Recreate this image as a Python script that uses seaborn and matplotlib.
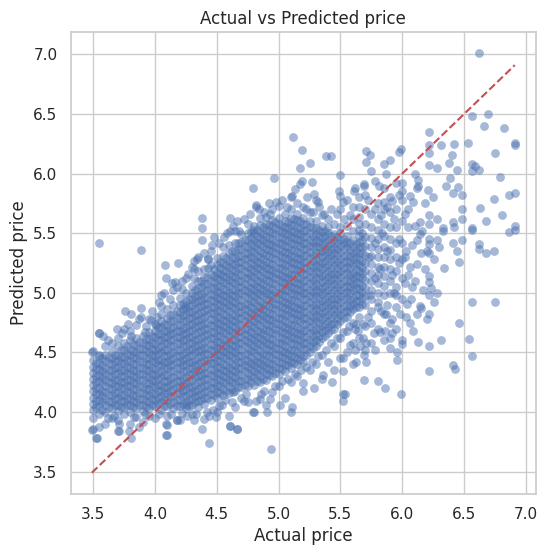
import matplotlib
matplotlib.use("Agg")
import matplotlib.pyplot as plt
import seaborn as sns
import pandas as pd

# dense part of the cloud: actual price columns and the predicted values seen in each
core_actual = [3.50, 3.55, 3.60, 3.65, 3.70, 3.75, 3.80, 3.85, 3.90, 3.95,
               4.00, 4.05, 4.10, 4.15, 4.20, 4.25, 4.30, 4.35, 4.40, 4.45,
               4.50, 4.55, 4.60, 4.65, 4.70, 4.75, 4.80, 4.85, 4.90, 4.95,
               5.00, 5.05, 5.10, 5.15, 5.20, 5.25, 5.30, 5.35, 5.40, 5.45,
               5.50, 5.55, 5.60, 5.65, 5.70, 5.75, 5.80, 5.85, 5.90, 5.95, 6.00]
core_predicted = [
    [3.86, 3.95, 4.02, 4.07, 4.12, 4.18, 4.23, 4.28, 4.33, 4.38, 4.44, 4.51],
    [3.87, 3.98, 4.05, 4.10, 4.15, 4.20, 4.26, 4.31, 4.36, 4.41, 4.47, 4.66],
    [3.90, 4.00, 4.06, 4.11, 4.17, 4.22, 4.27, 4.32, 4.37, 4.43, 4.48, 4.55],
    [3.95, 4.03, 4.08, 4.14, 4.19, 4.24, 4.29, 4.35, 4.40, 4.45, 4.51, 4.58],
    [3.84, 3.93, 4.01, 4.06, 4.12, 4.17, 4.22, 4.27, 4.33, 4.38, 4.43, 4.48, 4.55, 4.62],
    [3.98, 4.04, 4.09, 4.14, 4.20, 4.25, 4.30, 4.35, 4.41, 4.46, 4.52, 4.58, 4.70],
    [3.90, 4.00, 4.06, 4.11, 4.16, 4.22, 4.27, 4.32, 4.37, 4.43, 4.48, 4.53, 4.60, 4.68],
    [3.96, 4.03, 4.08, 4.13, 4.19, 4.24, 4.29, 4.34, 4.40, 4.45, 4.50, 4.56, 4.62, 4.73],
    [3.92, 4.01, 4.06, 4.11, 4.16, 4.21, 4.27, 4.32, 4.37, 4.42, 4.48, 4.53, 4.58, 4.64],
    [3.97, 4.03, 4.08, 4.14, 4.19, 4.24, 4.29, 4.35, 4.40, 4.45, 4.50, 4.56, 4.61, 4.67, 4.78],
    [3.95, 4.05, 4.10, 4.15, 4.21, 4.26, 4.31, 4.36, 4.42, 4.47, 4.52, 4.57, 4.63, 4.68, 4.74],
    [4.02, 4.08, 4.13, 4.18, 4.23, 4.29, 4.34, 4.39, 4.44, 4.50, 4.55, 4.60, 4.65, 4.71, 4.76, 4.82],
    [3.97, 4.05, 4.10, 4.16, 4.21, 4.26, 4.31, 4.37, 4.42, 4.47, 4.52, 4.58, 4.63, 4.68, 4.73, 4.79, 4.86],
    [4.03, 4.08, 4.13, 4.19, 4.24, 4.29, 4.34, 4.40, 4.45, 4.50, 4.55, 4.61, 4.66, 4.71, 4.76, 4.82, 4.90, 5.02],
    [3.93, 4.05, 4.10, 4.16, 4.21, 4.26, 4.31, 4.37, 4.42, 4.47, 4.52, 4.58, 4.63, 4.68, 4.73, 4.79, 4.84, 4.90, 4.96],
    [4.03, 4.08, 4.13, 4.19, 4.24, 4.29, 4.34, 4.40, 4.45, 4.50, 4.55, 4.61, 4.66, 4.71, 4.76, 4.82, 4.87, 4.93, 5.00, 5.12],
    [3.98, 4.06, 4.11, 4.16, 4.21, 4.27, 4.32, 4.37, 4.42, 4.48, 4.53, 4.58, 4.63, 4.69, 4.74, 4.79, 4.84, 4.90, 4.95, 5.00, 5.06],
    [4.04, 4.09, 4.14, 4.19, 4.25, 4.30, 4.35, 4.40, 4.46, 4.51, 4.56, 4.61, 4.67, 4.72, 4.77, 4.82, 4.88, 4.93, 4.98, 5.04, 5.10, 5.18],
    [3.94, 4.07, 4.12, 4.17, 4.22, 4.28, 4.33, 4.38, 4.43, 4.49, 4.54, 4.59, 4.64, 4.70, 4.75, 4.80, 4.85, 4.91, 4.96, 5.01, 5.07, 5.13, 5.20],
    [4.10, 4.15, 4.20, 4.25, 4.31, 4.36, 4.41, 4.46, 4.52, 4.57, 4.62, 4.67, 4.73, 4.78, 4.83, 4.88, 4.94, 4.99, 5.04, 5.10, 5.16, 5.23, 5.35],
    [4.00, 4.12, 4.17, 4.22, 4.28, 4.33, 4.38, 4.43, 4.49, 4.54, 4.59, 4.64, 4.70, 4.75, 4.80, 4.85, 4.91, 4.96, 5.01, 5.06, 5.12, 5.17, 5.23, 5.29],
    [4.14, 4.19, 4.25, 4.30, 4.35, 4.40, 4.46, 4.51, 4.56, 4.61, 4.67, 4.72, 4.77, 4.82, 4.88, 4.93, 4.98, 5.03, 5.09, 5.14, 5.19, 5.25, 5.31, 5.38],
    [3.97, 4.16, 4.22, 4.27, 4.32, 4.37, 4.43, 4.48, 4.53, 4.58, 4.64, 4.69, 4.74, 4.79, 4.85, 4.90, 4.95, 5.00, 5.06, 5.11, 5.16, 5.22, 5.27, 5.33, 5.40],
    [4.04, 4.18, 4.24, 4.29, 4.34, 4.39, 4.45, 4.50, 4.55, 4.60, 4.66, 4.71, 4.76, 4.81, 4.87, 4.92, 4.97, 5.02, 5.08, 5.13, 5.18, 5.24, 5.29, 5.35, 5.42, 5.52],
    [4.21, 4.26, 4.31, 4.37, 4.42, 4.47, 4.52, 4.58, 4.63, 4.68, 4.73, 4.79, 4.84, 4.89, 4.94, 5.00, 5.05, 5.10, 5.15, 5.21, 5.26, 5.31, 5.37, 5.43, 5.49],
    [4.08, 4.22, 4.28, 4.33, 4.38, 4.43, 4.49, 4.54, 4.59, 4.64, 4.70, 4.75, 4.80, 4.85, 4.91, 4.96, 5.01, 5.06, 5.12, 5.17, 5.22, 5.28, 5.33, 5.38, 5.44, 5.50, 5.58],
    [4.00, 4.23, 4.29, 4.34, 4.39, 4.44, 4.50, 4.55, 4.60, 4.65, 4.71, 4.76, 4.81, 4.86, 4.92, 4.97, 5.02, 5.07, 5.13, 5.18, 5.23, 5.28, 5.34, 5.39, 5.44, 5.50, 5.56],
    [4.11, 4.25, 4.30, 4.36, 4.41, 4.46, 4.51, 4.57, 4.62, 4.67, 4.72, 4.78, 4.83, 4.88, 4.93, 4.99, 5.04, 5.09, 5.14, 5.20, 5.25, 5.30, 5.35, 5.41, 5.46, 5.51, 5.57, 5.63],
    [4.06, 4.27, 4.32, 4.37, 4.42, 4.48, 4.53, 4.58, 4.63, 4.69, 4.74, 4.79, 4.84, 4.90, 4.95, 5.00, 5.05, 5.11, 5.16, 5.21, 5.26, 5.32, 5.37, 5.42, 5.47, 5.53, 5.58, 5.64],
    [4.17, 4.30, 4.35, 4.40, 4.45, 4.51, 4.56, 4.61, 4.66, 4.72, 4.77, 4.82, 4.87, 4.93, 4.98, 5.03, 5.08, 5.14, 5.19, 5.24, 5.29, 5.35, 5.40, 5.45, 5.50, 5.56, 5.61, 5.70],
    [4.22, 4.32, 4.37, 4.42, 4.48, 4.53, 4.58, 4.63, 4.69, 4.74, 4.79, 4.84, 4.90, 4.95, 5.00, 5.05, 5.11, 5.16, 5.21, 5.26, 5.32, 5.37, 5.42, 5.47, 5.53, 5.58, 5.63, 5.73],
    [4.12, 4.34, 4.39, 4.45, 4.50, 4.55, 4.60, 4.66, 4.71, 4.76, 4.81, 4.87, 4.92, 4.97, 5.02, 5.08, 5.13, 5.18, 5.23, 5.29, 5.34, 5.39, 5.44, 5.50, 5.55, 5.60, 5.66],
    [4.25, 4.37, 4.42, 4.47, 4.52, 4.58, 4.63, 4.68, 4.73, 4.79, 4.84, 4.89, 4.94, 5.00, 5.05, 5.10, 5.15, 5.21, 5.26, 5.31, 5.36, 5.42, 5.47, 5.52, 5.57, 5.63, 5.70, 5.80],
    [4.30, 4.40, 4.45, 4.50, 4.56, 4.61, 4.66, 4.71, 4.77, 4.82, 4.87, 4.92, 4.98, 5.03, 5.08, 5.13, 5.19, 5.24, 5.29, 5.34, 5.40, 5.45, 5.50, 5.55, 5.61, 5.66],
    [4.18, 4.42, 4.47, 4.53, 4.58, 4.63, 4.68, 4.74, 4.79, 4.84, 4.89, 4.95, 5.00, 5.05, 5.10, 5.16, 5.21, 5.26, 5.31, 5.37, 5.42, 5.47, 5.52, 5.58, 5.63, 5.72],
    [4.35, 4.50, 4.55, 4.60, 4.66, 4.71, 4.76, 4.81, 4.87, 4.92, 4.97, 5.02, 5.08, 5.13, 5.18, 5.23, 5.29, 5.34, 5.39, 5.44, 5.50, 5.55, 5.60, 5.68],
    [4.40, 4.55, 4.60, 4.65, 4.70, 4.76, 4.81, 4.86, 4.91, 4.97, 5.02, 5.07, 5.12, 5.18, 5.23, 5.28, 5.33, 5.39, 5.44, 5.49, 5.54, 5.60, 5.78],
    [4.28, 4.48, 4.62, 4.67, 4.72, 4.78, 4.83, 4.88, 4.93, 4.99, 5.04, 5.09, 5.14, 5.20, 5.25, 5.30, 5.35, 5.41, 5.46, 5.51, 5.56, 5.65],
    [4.42, 4.66, 4.71, 4.76, 4.81, 4.87, 4.92, 4.97, 5.02, 5.08, 5.13, 5.18, 5.23, 5.29, 5.34, 5.39, 5.44, 5.50, 5.55, 5.62],
    [4.35, 4.55, 4.70, 4.75, 4.81, 4.86, 4.91, 4.96, 5.02, 5.07, 5.12, 5.17, 5.23, 5.28, 5.33, 5.38, 5.44, 5.49, 5.58],
    [4.45, 4.62, 4.76, 4.81, 4.86, 4.92, 4.97, 5.02, 5.07, 5.13, 5.18, 5.23, 5.28, 5.34, 5.39, 5.44, 5.50, 5.55, 5.70],
    [4.50, 4.68, 4.80, 4.85, 4.90, 4.96, 5.01, 5.06, 5.11, 5.17, 5.22, 5.27, 5.32, 5.38, 5.43, 5.48, 5.56],
    [4.40, 4.58, 4.75, 4.86, 4.91, 4.96, 5.02, 5.07, 5.12, 5.17, 5.23, 5.28, 5.33, 5.38, 5.44, 5.52, 5.62],
    [4.62, 4.80, 4.88, 4.93, 4.98, 5.03, 5.08, 5.13, 5.18, 5.23, 5.28, 5.33, 5.38, 5.43, 5.48, 5.53, 5.58, 5.64, 5.72],
    [4.52, 4.72, 4.90, 4.97, 5.04, 5.11, 5.18, 5.25, 5.32, 5.39, 5.47, 5.58, 5.70, 5.82],
    [4.58, 4.85, 4.95, 5.02, 5.10, 5.17, 5.24, 5.31, 5.38, 5.46, 5.55, 5.66],
    [4.70, 4.92, 5.00, 5.08, 5.15, 5.22, 5.30, 5.37, 5.45, 5.53, 5.62, 5.75],
    [4.82, 4.98, 5.06, 5.14, 5.22, 5.30, 5.38, 5.48, 5.58, 5.70, 5.88],
    [4.75, 5.00, 5.10, 5.20, 5.28, 5.36, 5.45, 5.55, 5.68, 5.80],
    [4.88, 5.05, 5.18, 5.30, 5.42, 5.55, 5.70, 5.92],
    [4.95, 5.12, 5.28, 5.42, 5.60, 5.78],
]

# the most crowded middle of the cloud, between the columns above
inner_actual = [3.525, 3.575, 3.625, 3.675, 3.725, 3.775, 3.825, 3.875, 3.925, 3.975,
                4.025, 4.075, 4.125, 4.175, 4.225, 4.275, 4.325, 4.375, 4.425, 4.475,
                4.525, 4.575, 4.625, 4.675, 4.725, 4.775, 4.825, 4.875, 4.925, 4.975,
                5.025, 5.075, 5.125, 5.175, 5.225, 5.275, 5.325, 5.375, 5.425, 5.475,
                5.525, 5.575, 5.625, 5.675]
inner_predicted = [
    [4.04, 4.09, 4.15, 4.20, 4.25, 4.30, 4.36, 4.41],
    [4.02, 4.08, 4.13, 4.18, 4.24, 4.29, 4.34, 4.39, 4.45],
    [4.04, 4.09, 4.14, 4.20, 4.25, 4.30, 4.35, 4.41, 4.46],
    [4.06, 4.11, 4.16, 4.22, 4.27, 4.32, 4.37, 4.43, 4.48],
    [4.04, 4.09, 4.14, 4.20, 4.25, 4.30, 4.35, 4.41, 4.46, 4.52],
    [4.06, 4.11, 4.17, 4.22, 4.27, 4.33, 4.38, 4.43, 4.49, 4.55],
    [4.04, 4.09, 4.14, 4.19, 4.25, 4.30, 4.35, 4.40, 4.46, 4.51, 4.57],
    [4.06, 4.11, 4.16, 4.22, 4.27, 4.32, 4.37, 4.43, 4.48, 4.53, 4.59],
    [4.04, 4.09, 4.14, 4.19, 4.24, 4.30, 4.35, 4.40, 4.45, 4.51, 4.56, 4.61],
    [4.06, 4.11, 4.16, 4.22, 4.27, 4.32, 4.37, 4.43, 4.48, 4.53, 4.58, 4.64],
    [4.07, 4.12, 4.18, 4.23, 4.28, 4.33, 4.39, 4.44, 4.49, 4.54, 4.60, 4.65, 4.71],
    [4.05, 4.10, 4.16, 4.21, 4.26, 4.31, 4.37, 4.42, 4.47, 4.52, 4.58, 4.63, 4.68, 4.74],
    [4.07, 4.13, 4.18, 4.23, 4.28, 4.34, 4.39, 4.44, 4.49, 4.55, 4.60, 4.65, 4.70, 4.76, 4.81],
    [4.05, 4.10, 4.16, 4.21, 4.26, 4.31, 4.37, 4.42, 4.47, 4.52, 4.58, 4.63, 4.68, 4.73, 4.79, 4.85],
    [4.07, 4.13, 4.18, 4.23, 4.28, 4.34, 4.39, 4.44, 4.49, 4.55, 4.60, 4.65, 4.70, 4.76, 4.81, 4.86, 4.91],
    [4.05, 4.10, 4.16, 4.21, 4.26, 4.31, 4.37, 4.42, 4.47, 4.52, 4.58, 4.63, 4.68, 4.73, 4.79, 4.84, 4.89, 4.95],
    [4.08, 4.13, 4.18, 4.23, 4.29, 4.34, 4.39, 4.44, 4.50, 4.55, 4.60, 4.65, 4.71, 4.76, 4.81, 4.86, 4.92, 4.97, 5.02],
    [4.10, 4.15, 4.21, 4.26, 4.31, 4.36, 4.42, 4.47, 4.52, 4.57, 4.63, 4.68, 4.73, 4.78, 4.84, 4.89, 4.94, 4.99, 5.05, 5.10],
    [4.12, 4.18, 4.23, 4.28, 4.33, 4.39, 4.44, 4.49, 4.54, 4.60, 4.65, 4.70, 4.75, 4.81, 4.86, 4.91, 4.96, 5.02, 5.07, 5.13],
    [4.14, 4.20, 4.25, 4.30, 4.35, 4.41, 4.46, 4.51, 4.56, 4.62, 4.67, 4.72, 4.77, 4.83, 4.88, 4.93, 4.98, 5.04, 5.09, 5.14, 5.20],
    [4.16, 4.22, 4.27, 4.32, 4.37, 4.43, 4.48, 4.53, 4.58, 4.64, 4.69, 4.74, 4.79, 4.85, 4.90, 4.95, 5.00, 5.06, 5.11, 5.16, 5.21, 5.26],
    [4.18, 4.24, 4.29, 4.34, 4.39, 4.45, 4.50, 4.55, 4.60, 4.66, 4.71, 4.76, 4.81, 4.87, 4.92, 4.97, 5.02, 5.08, 5.13, 5.18, 5.23, 5.29],
    [4.19, 4.25, 4.30, 4.35, 4.40, 4.46, 4.51, 4.56, 4.61, 4.67, 4.72, 4.77, 4.82, 4.88, 4.93, 4.98, 5.03, 5.09, 5.14, 5.19, 5.24, 5.30, 5.35],
    [4.21, 4.26, 4.32, 4.37, 4.42, 4.47, 4.53, 4.58, 4.63, 4.68, 4.74, 4.79, 4.84, 4.89, 4.95, 5.00, 5.05, 5.10, 5.16, 5.21, 5.26, 5.31, 5.37, 5.42],
    [4.23, 4.28, 4.34, 4.39, 4.44, 4.49, 4.55, 4.60, 4.65, 4.70, 4.76, 4.81, 4.86, 4.91, 4.97, 5.02, 5.07, 5.12, 5.18, 5.23, 5.28, 5.33, 5.39, 5.44],
    [4.25, 4.30, 4.36, 4.41, 4.46, 4.51, 4.57, 4.62, 4.67, 4.72, 4.78, 4.83, 4.88, 4.93, 4.99, 5.04, 5.09, 5.14, 5.20, 5.25, 5.30, 5.35, 5.41, 5.46, 5.51],
    [4.26, 4.32, 4.37, 4.42, 4.47, 4.53, 4.58, 4.63, 4.68, 4.74, 4.79, 4.84, 4.89, 4.95, 5.00, 5.05, 5.10, 5.16, 5.21, 5.26, 5.31, 5.37, 5.42, 5.47, 5.53],
    [4.28, 4.34, 4.39, 4.44, 4.49, 4.55, 4.60, 4.65, 4.70, 4.76, 4.81, 4.86, 4.91, 4.97, 5.02, 5.07, 5.12, 5.18, 5.23, 5.28, 5.33, 5.39, 5.44, 5.49, 5.55],
    [4.31, 4.36, 4.41, 4.47, 4.52, 4.57, 4.62, 4.68, 4.73, 4.78, 4.83, 4.89, 4.94, 4.99, 5.04, 5.10, 5.15, 5.20, 5.25, 5.31, 5.36, 5.41, 5.46, 5.52, 5.57],
    [4.33, 4.38, 4.44, 4.49, 4.54, 4.59, 4.65, 4.70, 4.75, 4.80, 4.86, 4.91, 4.96, 5.01, 5.07, 5.12, 5.17, 5.22, 5.28, 5.33, 5.38, 5.43, 5.49, 5.54, 5.59],
    [4.36, 4.41, 4.46, 4.51, 4.57, 4.62, 4.67, 4.72, 4.78, 4.83, 4.88, 4.93, 4.99, 5.04, 5.09, 5.14, 5.20, 5.25, 5.30, 5.35, 5.41, 5.46, 5.51, 5.56],
    [4.39, 4.44, 4.49, 4.54, 4.60, 4.65, 4.70, 4.75, 4.81, 4.86, 4.91, 4.96, 5.02, 5.07, 5.12, 5.17, 5.23, 5.28, 5.33, 5.38, 5.44, 5.49, 5.54, 5.59],
    [4.41, 4.46, 4.52, 4.57, 4.62, 4.67, 4.73, 4.78, 4.83, 4.88, 4.94, 4.99, 5.04, 5.09, 5.15, 5.20, 5.25, 5.30, 5.36, 5.41, 5.46, 5.51, 5.57, 5.62],
    [4.44, 4.49, 4.55, 4.60, 4.65, 4.70, 4.76, 4.81, 4.86, 4.91, 4.97, 5.02, 5.07, 5.12, 5.18, 5.23, 5.28, 5.33, 5.39, 5.44, 5.49, 5.54, 5.60],
    [4.48, 4.53, 4.58, 4.63, 4.69, 4.74, 4.79, 4.84, 4.90, 4.95, 5.00, 5.05, 5.11, 5.16, 5.21, 5.26, 5.32, 5.37, 5.42, 5.47, 5.53, 5.58],
    [4.54, 4.59, 4.64, 4.69, 4.75, 4.80, 4.85, 4.90, 4.96, 5.01, 5.06, 5.11, 5.17, 5.22, 5.27, 5.32, 5.38, 5.43, 5.48, 5.54],
    [4.59, 4.64, 4.70, 4.75, 4.80, 4.85, 4.91, 4.96, 5.01, 5.06, 5.12, 5.17, 5.22, 5.27, 5.33, 5.38, 5.43, 5.48, 5.53],
    [4.64, 4.69, 4.74, 4.80, 4.85, 4.90, 4.95, 5.01, 5.06, 5.11, 5.16, 5.22, 5.27, 5.32, 5.37, 5.43, 5.48, 5.52],
    [4.69, 4.74, 4.79, 4.85, 4.90, 4.95, 5.00, 5.06, 5.11, 5.16, 5.21, 5.27, 5.32, 5.37, 5.42, 5.48],
    [4.74, 4.79, 4.84, 4.90, 4.95, 5.00, 5.05, 5.11, 5.16, 5.21, 5.26, 5.32, 5.37, 5.42, 5.47],
    [4.79, 4.84, 4.89, 4.95, 5.00, 5.05, 5.10, 5.16, 5.21, 5.26, 5.31, 5.37, 5.42, 5.45],
    [4.84, 4.89, 4.94, 5.00, 5.05, 5.10, 5.15, 5.21, 5.26, 5.31, 5.36, 5.42],
    [4.88, 4.93, 4.98, 5.04, 5.09, 5.14, 5.19, 5.25, 5.30, 5.35, 5.41],
    [4.91, 4.96, 5.01, 5.06, 5.12, 5.17, 5.22, 5.27, 5.33, 5.38, 5.44, 5.50],
]

# loose points along the rim of the dense part
edge_actual = [
    3.98, 4.03, 4.07, 4.12, 4.14, 4.22, 4.27, 4.30, 4.35, 4.40, 4.46, 4.48, 4.52, 4.58,
    4.63, 4.66, 4.72, 4.77, 4.84, 4.88, 4.92, 5.03, 5.07, 5.15, 5.22, 5.28, 5.33, 5.37,
    5.42, 5.47, 5.53, 4.02, 3.93, 3.87, 3.78, 3.73, 3.62, 3.58,
    4.52, 4.57, 4.62, 4.70, 4.74, 4.88, 4.97, 5.03, 5.08, 5.13, 5.18, 5.22, 5.27, 5.32,
    5.38, 5.42, 5.47, 5.52, 5.57, 5.63, 4.47, 4.42, 4.33, 4.22, 4.13, 4.03, 3.92, 3.83,
    3.67, 3.62,
    5.72, 5.74, 5.78, 5.82, 5.73, 5.78, 5.84, 5.88, 5.92, 5.93, 5.97, 5.97, 6.02, 6.03,
    6.06, 6.07, 5.83, 5.77, 5.71, 5.66, 5.64, 5.68, 5.90, 5.95, 6.03, 6.09,
]
edge_predicted = [
    4.85, 4.92, 5.00, 4.95, 5.08, 5.10, 5.16, 5.22, 5.30, 5.33, 5.40, 5.47, 5.42, 5.50,
    5.56, 5.60, 5.62, 5.66, 5.70, 5.68, 5.75, 5.78, 5.72, 5.75, 5.70, 5.68, 5.72, 5.66,
    5.70, 5.66, 5.62, 4.80, 4.72, 4.78, 4.74, 4.66, 4.60, 4.64,
    4.05, 4.10, 4.08, 4.12, 4.15, 4.18, 4.22, 4.26, 4.28, 4.32, 4.35, 4.38, 4.42, 4.47,
    4.52, 4.58, 4.62, 4.67, 4.72, 4.74, 4.02, 4.00, 3.98, 3.99, 3.98, 3.98, 3.98, 3.96,
    3.97, 3.95,
    4.80, 4.98, 5.12, 5.20, 5.30, 5.42, 5.50, 5.35, 5.15, 5.00, 5.25, 5.45, 5.08, 5.35,
    5.22, 4.95, 4.85, 4.66, 4.58, 4.55, 4.68, 4.74, 4.62, 4.70, 4.80, 4.68,
]

# scattered points away from the dense part
sparse_actual = [
    6.62, 6.56, 6.69, 6.66, 6.82, 6.22, 6.91, 6.91, 6.53, 6.42, 6.31, 6.22, 5.12, 5.19,
    5.38, 5.42, 5.71, 5.74, 5.99, 5.97, 5.25, 5.17, 5.71, 5.85, 5.90, 5.87, 6.22, 6.22,
    6.28, 6.40, 6.38, 6.44, 6.39, 6.75, 6.56, 6.59, 6.62, 6.56, 6.79, 4.96, 4.79, 5.50,
    5.75, 6.10, 6.13, 6.13, 6.35, 6.45, 6.48, 6.41, 6.91, 6.86, 6.74, 6.63, 6.68, 6.81,
    6.91, 6.91, 6.86, 6.56, 6.56, 6.62, 6.62, 6.68, 6.74, 6.48, 6.48, 6.41, 6.42, 6.33,
    6.33, 6.41, 6.48, 6.44, 6.46, 6.22, 6.22, 6.22, 6.22, 6.28, 6.30, 6.22, 6.34, 6.10,
    6.14, 6.14, 6.12, 6.15, 6.12,
    3.55, 3.89, 4.08, 4.19, 4.38, 4.38, 4.38, 4.61, 4.34, 4.43, 4.56, 4.61, 4.68, 4.79,
    4.82, 4.82, 4.93, 4.98, 5.11, 5.13, 5.17, 5.19, 5.23, 5.29, 5.32, 5.27, 5.49, 5.50,
    5.52, 5.61, 5.69, 5.69, 5.78, 5.81, 5.85, 5.92, 6.00, 6.00, 6.06, 6.09, 6.12, 6.21,
    6.56, 6.75, 6.54, 6.46, 6.31, 6.22, 6.13, 6.22, 6.41, 6.43, 6.56, 5.69, 5.80, 5.86,
    5.99, 5.29, 5.52, 5.52, 5.54,
    6.22, 6.22, 6.23, 6.22, 6.17, 6.15, 6.20, 6.22, 6.06, 6.04, 5.98, 6.00, 6.00, 5.96,
    5.96, 5.90, 5.92, 5.86, 5.82, 5.87, 6.12, 6.14, 5.69, 5.71, 5.62, 5.63, 5.52, 5.52,
    5.43, 5.36, 5.20, 5.01, 4.93, 4.86, 4.82, 4.72, 4.63, 4.54, 4.44, 4.26, 4.25,
    3.53, 4.10, 4.10, 4.18, 4.44, 4.38, 4.61, 4.66, 4.09, 4.05, 4.05, 3.76, 3.81, 3.89,
    3.69, 3.55, 3.49, 3.55, 3.89, 3.92, 3.81, 3.97, 4.01, 4.32, 4.32, 4.32, 4.43, 4.43,
    4.16, 4.18, 4.22, 4.24, 3.49, 3.52, 3.71, 3.71, 3.79, 3.81, 3.87, 4.09, 4.09, 4.18,
    4.32, 4.49, 4.61, 4.66, 4.79, 4.91, 4.94, 5.10, 5.11,
    5.60, 5.65, 5.72, 5.78, 5.83, 5.88, 5.93, 5.97, 6.02, 6.05, 6.08, 6.02, 6.05, 6.08,
    5.55, 5.58, 5.62, 5.75, 5.68, 5.78, 5.85, 5.92, 5.62, 5.58, 5.80, 5.95, 5.88,
    6.05, 6.18, 6.25, 6.28, 6.16, 6.20, 6.26, 6.18, 6.10, 6.28, 6.26,
]
sparse_predicted = [
    7.01, 6.48, 6.50, 6.40, 6.38, 6.35, 6.26, 6.24, 6.26, 6.25, 6.24, 6.24, 6.31, 6.20,
    6.15, 6.15, 6.19, 6.16, 6.21, 6.18, 6.09, 6.05, 6.10, 6.08, 6.11, 6.00, 6.17, 6.07,
    6.05, 6.16, 6.09, 6.03, 5.96, 6.17, 6.08, 6.06, 6.03, 6.02, 5.97, 5.96, 5.88, 5.99,
    6.02, 6.00, 5.95, 5.90, 5.90, 5.89, 5.82, 5.84, 5.84, 5.82, 5.79, 5.71, 5.60, 5.65,
    5.56, 5.53, 5.51, 5.54, 5.53, 5.41, 5.37, 5.33, 5.35, 5.62, 5.70, 5.59, 5.55, 5.54,
    5.52, 5.42, 5.44, 5.35, 5.26, 5.65, 5.58, 5.45, 5.41, 5.44, 5.38, 5.33, 5.21, 5.56,
    5.59, 5.49, 5.44, 5.33, 5.24,
    5.42, 5.36, 5.23, 5.25, 5.63, 5.54, 5.44, 5.63, 5.28, 5.28, 5.47, 5.52, 5.52, 5.53,
    5.74, 5.72, 5.66, 5.76, 5.81, 5.87, 5.91, 5.94, 5.80, 5.83, 5.76, 5.93, 5.85, 5.81,
    5.76, 5.85, 5.90, 5.91, 5.94, 5.90, 5.76, 5.77, 5.92, 5.85, 5.81, 5.76, 5.88, 5.86,
    4.92, 4.92, 4.61, 4.75, 4.60, 4.55, 4.59, 4.34, 4.39, 4.36, 4.47, 4.27, 4.26, 4.20,
    4.15, 4.20, 4.15, 4.09, 4.15,
    5.14, 5.09, 5.04, 4.98, 5.02, 4.87, 4.78, 4.82, 4.75, 4.91, 4.82, 4.60, 4.57, 4.50,
    4.44, 4.54, 4.66, 4.68, 4.67, 4.82, 4.82, 4.89, 4.48, 4.42, 4.52, 4.42, 4.45, 4.34,
    4.25, 4.31, 4.24, 4.06, 4.11, 4.15, 4.09, 4.09, 4.17, 4.06, 3.97, 3.97, 4.06,
    3.78, 3.89, 3.81, 3.93, 3.74, 3.86, 3.88, 3.86, 5.12, 4.98, 4.89, 4.85, 4.82, 4.87,
    4.70, 4.66, 4.50, 4.48, 4.80, 4.67, 4.64, 4.77, 4.73, 5.27, 5.20, 5.12, 5.28, 5.21,
    5.09, 5.05, 5.03, 4.89, 3.85, 3.78, 3.90, 3.84, 3.84, 3.78, 3.87, 3.90, 3.81, 3.93,
    3.93, 3.96, 3.88, 3.86, 4.00, 4.00, 3.69, 4.00, 4.04,
    5.72, 5.80, 5.78, 5.70, 5.65, 5.72, 5.62, 5.82, 5.66, 5.55, 5.40, 5.30, 5.15, 5.05,
    5.78, 5.65, 5.88, 4.75, 4.62, 4.52, 4.60, 4.78, 4.70, 4.56, 4.88, 4.98, 4.90,
    5.70, 5.75, 5.80, 5.62, 5.52, 5.35, 5.28, 5.20, 5.10, 5.00, 4.92,
]

actual = []
predicted = []
for cols, vals in [(core_actual, core_predicted), (inner_actual, inner_predicted)]:
    for x, ys in zip(cols, vals):
        actual += [x] * len(ys)
        predicted += ys
actual += edge_actual + sparse_actual
predicted += edge_predicted + sparse_predicted

df = pd.DataFrame({"actual": actual, "predicted": predicted})

sns.set_theme(style="whitegrid")
fig, ax = plt.subplots(figsize=(5.48, 5.56), dpi=100)
sns.scatterplot(data=df, x="actual", y="predicted", alpha=0.5, s=40,
                linewidth=0, color="#4c72b0", ax=ax)
lo, hi = df["actual"].min(), df["actual"].max()
ax.plot([lo, hi], [lo, hi], "r--")
ax.set_title("Actual vs Predicted price")
ax.set_xlabel("Actual price")
ax.set_ylabel("Predicted price")
fig.subplots_adjust(left=0.129, right=0.978, top=0.942, bottom=0.112)
fig.savefig("out.png", dpi=100)
